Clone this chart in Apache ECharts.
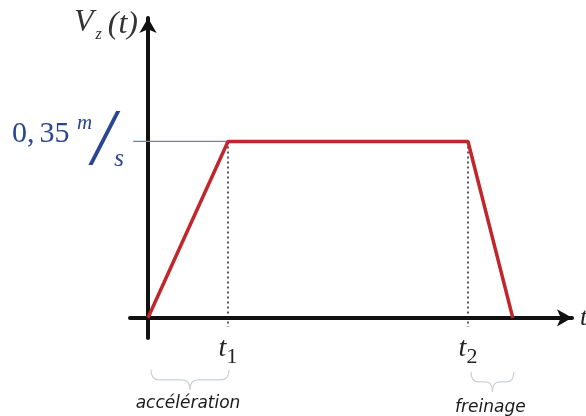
<!DOCTYPE html>
<html>
<head>
<meta charset="utf-8">
<script src="https://cdn.jsdelivr.net/npm/echarts@6/dist/echarts.min.js"></script>
<style>
  html, body { margin: 0; padding: 0; background: #fff; }
  #chart { width: 586px; height: 416px; }
</style>
</head>
<body>
<div id="chart"></div>
<script>
// Speed profile V_z(t): acceleration, constant speed, braking
const times = [0, 1, 4, 4.56];
const speeds = [0, 0.35, 0.35, 0];
const vMax = 0.35;
const tickTimes = [1, 4];
const tickSubs = ['1', '2'];
const phases = ['accélération', 'freinage'];
const phaseSpans = [[0, 1], [4, 4.56]];

const xMin = -0.225, xMax = 5.3;
const yMin = -0.04, yMax = 0.595;

const chart = echarts.init(document.getElementById('chart'));

const serif = '"Liberation Serif", "DejaVu Serif", serif';
const blue = '#2a4592';

chart.setOption({
  animation: false,
  grid: { left: 130, right: 14, top: 18, bottom: 78, outerBoundsMode: 'none', containLabel: false },
  xAxis: {
    type: 'value', min: xMin, max: xMax,
    axisLine: {
      onZero: true,
      lineStyle: { color: '#111', width: 4 },
      symbol: ['none', 'arrow'], symbolSize: [13, 15]
    },
    axisTick: { show: false },
    splitLine: { show: false },
    axisLabel: {
      customValues: tickTimes,
      margin: -8,
      formatter: v => '{t|t}{s|' + tickSubs[tickTimes.indexOf(v)] + '}',
      rich: {
        t: { fontFamily: serif, fontStyle: 'italic', fontSize: 28, color: '#222' },
        s: { fontFamily: serif, fontSize: 22, color: '#222', padding: [16, 0, 0, 0] }
      }
    },
    name: 't', nameGap: 8,
    nameTextStyle: { fontFamily: serif, fontStyle: 'italic', fontSize: 26, color: '#222', align: 'left' }
  },
  yAxis: {
    type: 'value', min: yMin, max: yMax,
    axisLine: {
      onZero: true,
      lineStyle: { color: '#111', width: 4 },
      symbol: ['none', 'arrow'], symbolSize: [13, 15]
    },
    axisTick: { show: false },
    splitLine: { show: false },
    axisLabel: {
      customValues: [vMax],
      margin: 6,
      formatter: v => {
        const [a, b] = String(v).split('.');
        return '{n|' + a + ',}{f|' + b + '} {u|m}{sl|/}{d|s}';
      },
      rich: {
        n: { fontFamily: serif, fontSize: 30, color: blue, padding: [0, 0, 14, 0] },
        f: { fontFamily: serif, fontSize: 30, color: blue, padding: [0, 0, 14, 5] },
        u: { fontFamily: serif, fontStyle: 'italic', fontSize: 21, color: blue, padding: [0, 0, 36, 4] },
        sl: { fontFamily: serif, fontStyle: 'italic', fontSize: 80, color: blue, padding: [4, 0, 0, 0] },
        d: { fontFamily: serif, fontStyle: 'italic', fontSize: 25, color: blue, padding: [36, 0, 0, 0] }
      }
    }
  },
  series: [
    {
      type: 'line', symbol: 'none',
      data: [[xMin + 0.04, vMax], [tickTimes[0], vMax]],
      lineStyle: { color: '#5b86c0', width: 1.2 },
      z: 1
    },
    {
      type: 'line', symbol: 'none',
      data: [[tickTimes[0], vMax], [tickTimes[0], -0.018]],
      lineStyle: { color: '#222', width: 1.5, type: [2, 3] },
      z: 1
    },
    {
      type: 'line', symbol: 'none',
      data: [[tickTimes[1], vMax], [tickTimes[1], -0.018]],
      lineStyle: { color: '#222', width: 1.5, type: [2, 3] },
      z: 1
    },
    {
      type: 'line', symbol: 'none',
      data: times.map((t, i) => [t, speeds[i]]),
      lineStyle: { color: '#c0262c', width: 3.5 },
      z: 3
    }
  ]
});

// Curly brace built from quadratic curves and straight segments
const braceStyle = { fill: null, stroke: '#c9ced8', lineWidth: 1.2 };
function brace(x0, x1, top, depth) {
  const xm = (x0 + x1) / 2, mid = top + depth / 2, r = Math.min(8, (x1 - x0) / 6);
  const curve = (ax, ay, cx, cy, bx, by) => ({
    type: 'bezierCurve',
    shape: { x1: ax, y1: ay, cpx1: cx, cpy1: cy, x2: bx, y2: by },
    style: braceStyle
  });
  const seg = (ax, bx) => ({
    type: 'line', shape: { x1: ax, y1: mid, x2: bx, y2: mid }, style: braceStyle
  });
  return [
    curve(x0, top, x0, mid, x0 + r, mid),
    seg(x0 + r, xm - r),
    curve(xm - r, mid, xm, mid, xm, top + depth),
    curve(xm, top + depth, xm, mid, xm + r, mid),
    seg(xm + r, x1 - r),
    curve(x1 - r, mid, x1, mid, x1, top)
  ];
}

const [ox, oy] = chart.convertToPixel({ gridIndex: 0 }, [0, 0]);
const [, yTop] = chart.convertToPixel({ gridIndex: 0 }, [0, yMax]);
const graphics = [];
phaseSpans.forEach((span, i) => {
  const a = chart.convertToPixel({ gridIndex: 0 }, [span[0], 0])[0] + 3;
  const b = chart.convertToPixel({ gridIndex: 0 }, [span[1], 0])[0] + 1;
  const top = oy + 52 + i * 2;
  graphics.push(...brace(a, b, top, 20));
  graphics.push({
    type: 'text',
    x: (a + b) / 2 - 2, y: oy + 86 + i * 4,
    style: {
      text: phases[i], fontFamily: '"DejaVu Sans", sans-serif', fontStyle: 'italic',
      fontSize: 17, fill: '#1a1a1a', align: 'center', verticalAlign: 'middle'
    }
  });
});

// Axis title V_z(t) beside the arrow
graphics.push({
  type: 'text',
  x: ox - 10, y: yTop + 7,
  style: {
    text: '{v|V}{z|z}{p|(t)}',
    align: 'right', verticalAlign: 'middle',
    rich: {
      v: { fontFamily: serif, fontStyle: 'italic', fontSize: 32, fill: '#333', padding: [0, 2, 4, 0] },
      z: { fontFamily: serif, fontStyle: 'italic', fontSize: 16, fill: '#333', padding: [20, 6, 0, 0] },
      p: { fontFamily: serif, fontStyle: 'italic', fontSize: 32, fill: '#333' }
    }
  }
});

chart.setOption({ graphic: graphics });
</script>
</body>
</html>
